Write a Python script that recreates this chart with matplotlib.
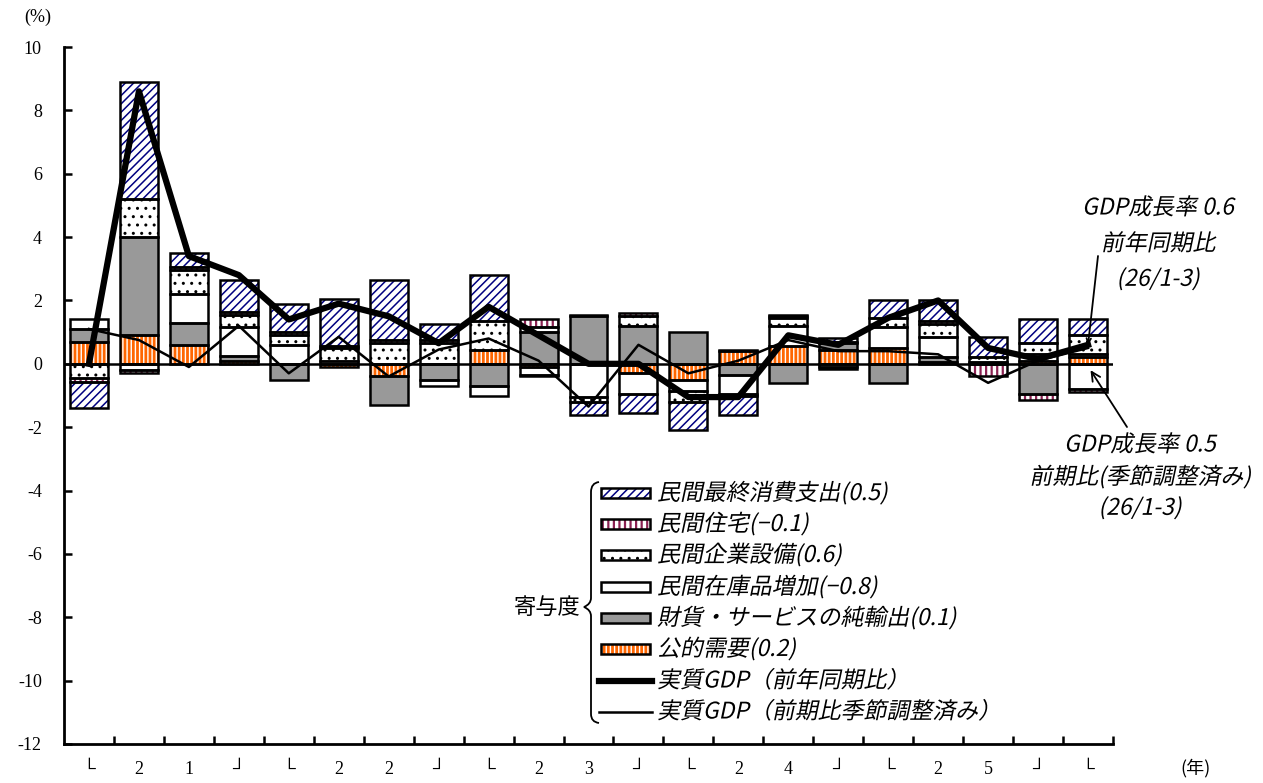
import numpy as np
import matplotlib
matplotlib.use('Agg')
import matplotlib.pyplot as plt
from matplotlib import patheffects
from matplotlib.patches import Rectangle, PathPatch
from matplotlib.path import Path
from matplotlib.lines import Line2D
from matplotlib.transforms import Affine2D

plt.rcParams['font.family'] = ['Liberation Serif', 'DejaVu Serif', 'Noto Sans CJK JP', 'DejaVu Sans']
plt.rcParams['hatch.linewidth'] = 1.0
JP = ['Noto Sans CJK JP', 'DejaVu Sans']
SERIF = ['Liberation Serif', 'DejaVu Serif', 'DejaVu Sans']

################################################################################################

year_marks = ['└', '2', '1', '┘', '└', '2', '2', '┘', '└', '2', '3', '┘',
              '└', '2', '4', '┘', '└', '2', '5', '┘', '└']
y_ticks = [-12, -10, -8, -6, -4, -2, 0, 2, 4, 6, 8, 10]

# contributions (percentage points), oldest quarter first
public      = [0.7, 0.9, 0.6, 0.1, 0.0, -0.1, -0.4, 0.0, 0.45, -0.1, 0.0, -0.3, -0.5, 0.4, 0.55, 0.45, 0.5, 0.05, 0.0, 0.1, 0.2]
net_exports = [0.4, 3.1, 0.7, 0.15, -0.5, 0.0, -0.9, -0.5, -0.7, 1.0, 1.5, 1.2, 1.0, -0.35, -0.6, 0.2, -0.6, 0.15, 0.0, -0.95, 0.1]
inventory   = [0.3, -0.2, 0.9, 0.9, 0.6, 0.1, 0.0, -0.2, -0.3, -0.25, -1.05, -0.65, -0.35, -0.6, 0.65, -0.1, 0.65, 0.65, 0.05, 0.2, -0.8]
equipment   = [-0.45, 1.2, 0.75, 0.4, 0.3, 0.4, 0.65, 0.65, 0.9, 0.15, -0.15, 0.3, -0.35, 0.05, 0.25, 0.05, 0.3, 0.4, 0.15, 0.35, 0.6]
housing     = [-0.13, -0.1, 0.1, 0.1, 0.1, 0.05, 0.1, 0.1, 0.0, 0.25, 0.05, 0.1, 0.0, -0.05, 0.05, -0.05, 0.0, 0.1, -0.4, -0.2, -0.1]
consumption = [-0.8, 3.7, 0.45, 1.0, 0.9, 1.5, 1.9, 0.5, 1.45, -0.05, -0.4, -0.6, -0.9, -0.6, 0.05, 0.1, 0.55, 0.65, 0.65, 0.75, 0.5]

gdp_yoy = [0.0, 8.6, 3.4, 2.8, 1.4, 1.9, 1.5, 0.65, 1.8, 0.9, 0.0, 0.0, -1.05, -1.05, 0.9, 0.6, 1.45, 2.0, 0.5, 0.15, 0.6]
gdp_qoq = [1.1, 0.75, -0.1, 1.2, -0.3, 0.85, -0.4, 0.45, 0.8, 0.1, -1.35, 0.6, -0.3, 0.1, 0.75, 0.4, 0.4, 0.3, -0.6, 0.1, 0.5]

bar_labels = ['民間最終消費支出(0.5)', '民間住宅(−0.1)', '民間企業設備(0.6)', '民間在庫品増加(−0.8)',
              '財貨・サービスの純輸出(0.1)', '公的需要(0.2)']
line_labels = ['実質GDP（前年同期比）', '実質GDP（前期比季節調整済み）']

# face, hatch colour, hatch, hatch linewidth  (stack order from zero outwards)
styles = [('#FF6600', 'white', '||||', 1.0),
          ('#999999', None, None, 1.0),
          ('white', None, None, 1.0),
          ('white', 'black', '..', 1.0),
          ('white', '#8B2252', '|||', 1.6),
          ('white', '#000080', '////', 1.1)]
series = [public, net_exports, inventory, equipment, housing, consumption]

W, H = 1263, 783
def px(x): return x / W
def py(y): return 1 - y / H

################################################################################################

class Oblique(patheffects.AbstractPathEffect):
    def __init__(self, angle=12):
        super().__init__()
        self.skew = Affine2D().skew_deg(angle, 0)

    def draw_path(self, renderer, gc, tpath, affine, rgbFace=None):
        renderer.draw_path(gc, tpath, self.skew + affine, rgbFace)

ital = [Oblique(12)]

def hatched(maker, st, **kw):
    face, hcol, hatch, hlw = st
    with plt.rc_context({'hatch.linewidth': hlw}):
        a = maker(facecolor=face, edgecolor=hcol if hcol else face, hatch=hatch, linewidth=0, **kw)
    for p in (a if hasattr(a, '__iter__') else [a]):
        if hasattr(p, 'set_hatch_linewidth'):
            p.set_hatch_linewidth(hlw)
    return a

################################################################################################

fig = plt.figure(figsize=(W / 100, H / 100), dpi=100)
ax = fig.add_axes([px(64), py(744), px(1113) - px(64), py(47) - py(744)])
ax.set_xlim(-0.5, 20.5)
ax.set_ylim(-12, 10)

x = np.arange(len(year_marks))
width = 0.76
pos = np.zeros(len(x))
neg = np.zeros(len(x))
for vals, st in zip(series, styles):
    v = np.asarray(vals, float)
    bottom = np.where(v >= 0, pos, neg)
    m = v != 0
    hatched(lambda **kw: ax.bar(x[m], v[m], width, bottom=bottom[m], zorder=2, **kw), st)
    ax.bar(x[m], v[m], width, bottom=bottom[m], facecolor='none', edgecolor='black',
           linewidth=1.8, zorder=3)
    pos = pos + np.clip(v, 0, None)
    neg = neg + np.clip(v, None, 0)

ax.axhline(0, color='black', lw=1.8, zorder=3)
ax.plot(x, gdp_yoy, color='black', lw=4.5, zorder=5, solid_joinstyle='round')
ax.plot(x, gdp_qoq, color='black', lw=1.8, zorder=5)

for s in ['top', 'right']:
    ax.spines[s].set_visible(False)
for s in ['left', 'bottom']:
    ax.spines[s].set_linewidth(2.0)

ax.set_yticks(y_ticks)
ax.set_yticklabels([str(t) for t in y_ticks], family=SERIF, fontsize=13)
ax.tick_params(axis='y', direction='in', length=6, width=1.8, pad=16)
ax.set_xticks(np.arange(0.5, 21, 1))
ax.set_xticks(x, minor=True)
ax.set_xticklabels([])
ax.set_xticklabels(year_marks, minor=True, family=SERIF, fontsize=13)
ax.tick_params(axis='x', which='major', direction='in', length=6, width=1.8)
ax.tick_params(axis='x', which='minor', length=0, pad=12)

fig.text(px(38), py(17), '(%)', ha='center', va='center', fontsize=13, family=SERIF)
fig.text(px(1195), py(768), '(年)', ha='center', va='center', fontsize=13, family=JP)

################################################################################################

row_y = [493, 524, 555, 587, 618, 649, 681, 712]
legend_styles = styles[::-1]
for i, (lab, st) in enumerate(zip(bar_labels, legend_styles)):
    y = row_y[i]
    hatched(lambda **kw: fig.add_artist(Rectangle((px(601), py(y + 5)), px(650) - px(601),
                                                 py(y - 5) - py(y + 5), transform=fig.transFigure, **kw)), st)
    fig.add_artist(Rectangle((px(601), py(y + 5)), px(650) - px(601), py(y - 5) - py(y + 5),
                             transform=fig.transFigure, facecolor='none', edgecolor='black', lw=1.8))
    fig.text(px(657), py(y), lab, ha='left', va='center', fontsize=16.5, family=JP, path_effects=ital)

for i, (lab, lw) in enumerate(zip(line_labels, [4.5, 1.8])):
    y = row_y[6 + i]
    fig.add_artist(Line2D([px(599), px(652)], [py(y), py(y)], color='black', lw=lw,
                          transform=fig.transFigure))
    fig.text(px(657), py(y), lab, ha='left', va='center', fontsize=16.5, family=JP, path_effects=ital)

fig.text(px(547), py(607), '寄与度', ha='center', va='center', fontsize=16, family=JP)

brace = [(599, 482), (591, 483), (591, 492), (591, 598), (591, 604), (584, 607),
         (591, 610), (591, 616), (591, 714), (591, 722), (599, 723)]
codes = [Path.MOVETO, Path.CURVE3, Path.CURVE3, Path.LINETO, Path.CURVE3, Path.CURVE3,
         Path.CURVE3, Path.CURVE3, Path.LINETO, Path.CURVE3, Path.CURVE3]
fig.add_artist(PathPatch(Path([(px(a), py(b)) for a, b in brace], codes), facecolor='none',
                         edgecolor='black', lw=1.3, transform=fig.transFigure))

################################################################################################

for txt, y in zip(['GDP成長率 0.6', '前年同期比', '(26/1-3)'], [208, 244, 279]):
    fig.text(px(1158), py(y), txt, ha='center', va='center', fontsize=16.5, family=JP, path_effects=ital)
for txt, y in zip(['GDP成長率 0.5', '前期比(季節調整済み)', '(26/1-3)'], [445, 477, 508]):
    fig.text(px(1140), py(y), txt, ha='center', va='center', fontsize=16.5, family=JP, path_effects=ital)

ax.annotate('', xy=(x[-1], gdp_yoy[-1]), xycoords='data', xytext=(1098, H - 256),
            textcoords='figure pixels',
            arrowprops=dict(arrowstyle='->', lw=1.3, color='black', mutation_scale=8,
                            shrinkA=0, shrinkB=0))
ax.annotate('', xy=(x[-1] + 0.05, -0.2), xycoords='data', xytext=(1127, H - 427),
            textcoords='figure pixels',
            arrowprops=dict(arrowstyle='->', lw=1.3, color='black', mutation_scale=16,
                            shrinkA=0, shrinkB=0))

fig.savefig('out.png', dpi=100)
